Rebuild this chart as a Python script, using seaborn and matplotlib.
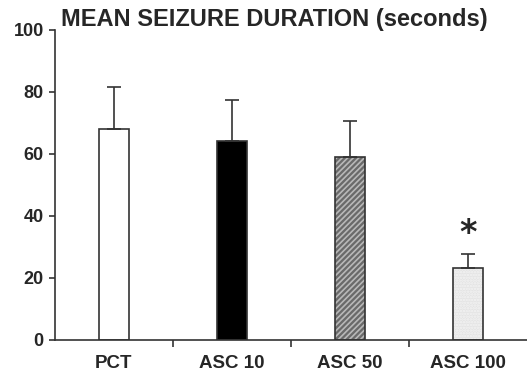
import matplotlib
matplotlib.use("Agg")
import matplotlib.pyplot as plt
import numpy as np
import pandas as pd
import seaborn as sns

groups = ["PCT", "ASC 10", "ASC 50", "ASC 100"]
means = [68.0, 64.3, 59.1, 23.1]
sems = [13.6, 13.0, 11.6, 4.5]
marked = ["", "", "", "*"]


def plot_bars():
    df = pd.DataFrame({"group": groups, "mean": means, "sem": sems})

    sns.set_style("ticks")
    plt.rcParams["font.family"] = ["Liberation Sans", "DejaVu Sans"]
    plt.rcParams["hatch.linewidth"] = 1.2

    fig = plt.figure(figsize=(5.27, 3.74), dpi=100)
    ax = fig.add_axes([0.104, 0.091, 0.896, 0.829])

    sns.barplot(data=df, x="group", y="mean", width=0.25, color="white",
                edgecolor="#333333", linewidth=1.2, errorbar=None, ax=ax)

    faces = ["white", "black", "#6a6a6a", "#e4e4e4"]
    hatches = [None, None, "//////", "......"]
    hatch_cols = [None, None, "#b8b8b8", "#f4f4f4"]
    for bar, fc, h, hc in zip(ax.patches, faces, hatches, hatch_cols):
        bar.set_facecolor(fc)
        if h:
            bar.set_hatch(h)
            bar._hatch_color = matplotlib.colors.to_rgba(hc)

    centers = [b.get_x() + b.get_width() / 2 for b in ax.patches]
    ax.errorbar(centers, df["mean"], yerr=[np.zeros(len(sems)), df["sem"]],
                fmt="none", ecolor="#333333", elinewidth=1.2, capsize=5,
                capthick=1.2, zorder=1)
    for x, m, s, lab in zip(centers, means, sems, marked):
        if lab:
            ax.text(x, m + s + 1.5, lab, ha="center", va="bottom",
                    fontsize=24, fontweight="bold", family="DejaVu Sans")

    ax.set_xlim(-0.5, len(groups) - 0.5)
    ax.set_ylim(0, 100)
    ax.set_yticks([0, 20, 40, 60, 80, 100])
    ax.set_xticks(np.arange(0.5, len(groups) - 0.5), minor=True)
    ax.tick_params(axis="x", which="major", length=0, pad=11)
    ax.tick_params(axis="x", which="minor", length=5, width=1.2, color="#333333")
    ax.tick_params(axis="y", length=4, width=1.2, color="#333333", pad=4)
    for lab in ax.get_xticklabels():
        lab.set_fontweight("bold")
        lab.set_fontsize(13.5)
    for lab in ax.get_yticklabels():
        lab.set_fontweight("bold")
        lab.set_fontsize(13)
    ax.set_xlabel("")
    ax.set_ylabel("")
    sns.despine(ax=ax)
    for sp in ["left", "bottom"]:
        ax.spines[sp].set_linewidth(1.2)
        ax.spines[sp].set_color("#333333")

    fig.text(0.116, 0.948, "MEAN SEIZURE DURATION (seconds)", fontsize=17,
             fontweight="bold", ha="left", va="center")

    fig.savefig("out.png", dpi=100)


if __name__ == "__main__":
    plot_bars()
